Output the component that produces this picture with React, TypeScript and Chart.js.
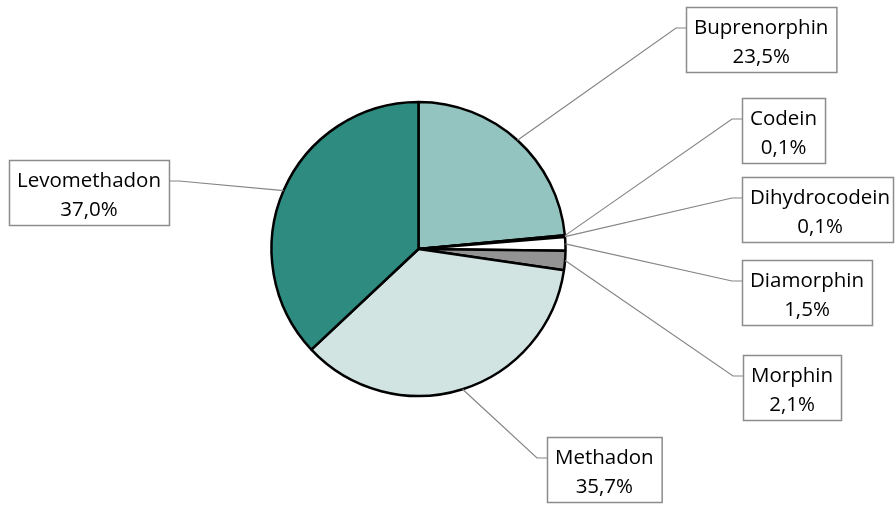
import React, { useEffect, useRef } from "react";
import { Chart, registerables } from "chart.js";

Chart.register(...registerables);

const categories = ["Buprenorphin", "Codein", "Dihydrocodein", "Diamorphin", "Morphin", "Methadon", "Levomethadon"];
const shares = [23.5, 0.1, 0.1, 1.5, 2.1, 35.7, 37.0];
const sliceColors = ["#94c4bf", "#1a1a1a", "#1a1a1a", "#ffffff", "#939393", "#d1e4e2", "#2e8b80"];

// label box layout: left, top, and which side the leader enters
const boxLeft = [686, 742, 742, 742, 743, 547, 9];
const boxTop = [7, 98, 177, 260, 355, 437, 160];
const boxSide = ["left", "left", "left", "left", "left", "left", "right"];

const FONT = '20.5px "Open Sans"';
const BOX_H = 65;
const PAD = 8;

const fmt = (v: number) => v.toFixed(1).replace(".", ",") + "%";

const labelPlugin = {
  id: "calloutLabels",
  afterDraw(chart: any) {
    const ctx = chart.ctx as CanvasRenderingContext2D;
    const meta = chart.getDatasetMeta(0);
    const W = chart.width;
    ctx.save();
    ctx.font = FONT;
    meta.data.forEach((arc: any, i: number) => {
      const p = arc.getProps(["startAngle", "endAngle", "outerRadius", "x", "y"], true);
      const mid = (p.startAngle + p.endAngle) / 2;
      const ax = p.x + Math.cos(mid) * p.outerRadius;
      const ay = p.y + Math.sin(mid) * p.outerRadius;
      const l1 = categories[i];
      const l2 = fmt(shares[i]);
      const tw = Math.max(ctx.measureText(l1).width, ctx.measureText(l2).width);
      const left = boxLeft[i];
      let w = tw + PAD * 2;
      if (left + w > W - 2) w = W - 2 - left;
      const top = boxTop[i];
      const ly = top + 21;
      const entryX = boxSide[i] === "left" ? left : left + w;
      const elbowX = boxSide[i] === "left" ? entryX - 10 : entryX + 10;
      ctx.strokeStyle = "#858585";
      ctx.lineWidth = 1.2;
      ctx.beginPath();
      ctx.moveTo(ax, ay);
      ctx.lineTo(elbowX, ly);
      ctx.lineTo(entryX, ly);
      ctx.stroke();
      ctx.fillStyle = "#ffffff";
      ctx.fillRect(left, top, w, BOX_H);
      ctx.strokeStyle = "#8c8c8c";
      ctx.lineWidth = 1.5;
      ctx.strokeRect(left + 0.5, top + 0.5, w, BOX_H);
      ctx.fillStyle = "#000000";
      ctx.textAlign = "center";
      ctx.textBaseline = "alphabetic";
      const cx = left + (tw + PAD * 2) / 2;
      ctx.fillText(l1, cx, top + 27);
      ctx.fillText(l2, cx, top + 56);
    });
    ctx.restore();
  },
};

export default function App() {
  const ref = useRef<HTMLCanvasElement | null>(null);
  useEffect(() => {
    if (!ref.current) return;
    const chart = new Chart(ref.current, {
      type: "pie",
      data: {
        labels: categories,
        datasets: [
          {
            data: shares,
            backgroundColor: sliceColors,
            borderColor: "#000000",
            borderWidth: 2.5,
          },
        ],
      },
      options: {
        animation: false,
        responsive: false,
        radius: 147,
        layout: { padding: { left: 271, right: 329, top: 101, bottom: 108 } },
        plugins: { legend: { display: false }, tooltip: { enabled: false } },
        events: [],
      } as any,
      plugins: [labelPlugin],
    });
    return () => chart.destroy();
  }, []);
  return (
    <div style={{ position: "fixed", left: 0, top: 0, width: 895, height: 505, background: "#fff" }}>
      <canvas ref={ref} width={895} height={505} style={{ width: 895, height: 505 }} />
    </div>
  );
}
